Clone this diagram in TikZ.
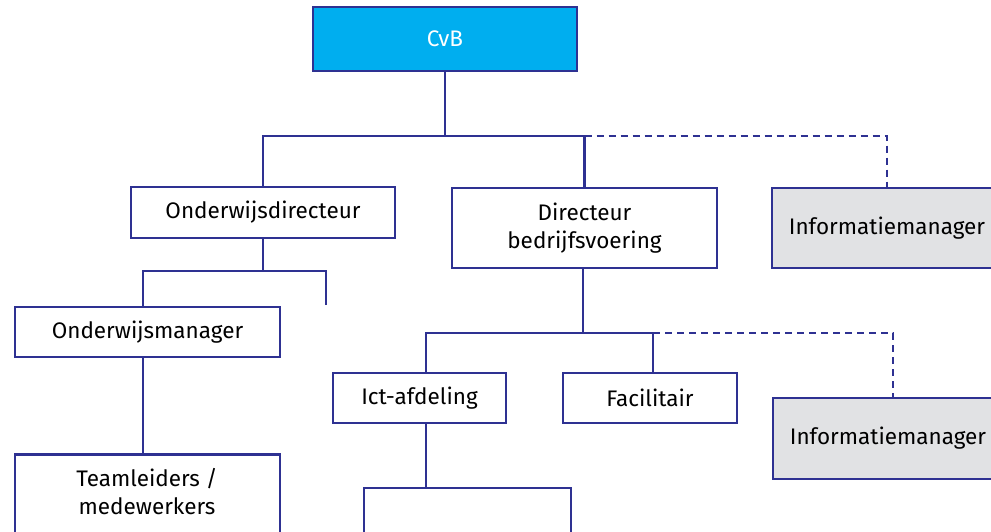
\documentclass[tikz,border=0pt]{standalone}
\usepackage{fontspec}
\setmainfont{Fira Sans}
\definecolor{orgline}{RGB}{46,49,146}
\definecolor{orgcyan}{RGB}{0,174,239}
\definecolor{orggrey}{RGB}{225,226,228}
\begin{document}
\begin{tikzpicture}[x=1pt,y=-1pt,
  link/.style={draw=orgline,line width=2.8pt},
  dotlink/.style={link,dash pattern=on 7pt off 5pt},
  unit/.style={draw=orgline,line width=2.8pt,fill=white,inner sep=0pt,
    align=center,font=\fontsize{22.5}{28}\selectfont},
  board/.style={unit,fill=orgcyan,text=white},
  staff/.style={unit,fill=orggrey}]
\useasboundingbox (0,0) rectangle (991,531);
\clip (0,0) rectangle (991,531);

% boxes
\node[board, minimum width=264pt, minimum height=64pt] (cvb) at (445,39) {CvB};
\node[unit, minimum width=264pt, minimum height=51pt] (odir) at (263,212.5) {Onderwijsdirecteur};
\node[unit, minimum width=265pt, minimum height=80pt] (dbv) at (584.5,228) {Directeur\\bedrijfsvoering};
\node[staff, minimum width=230pt, minimum height=80pt] (im1) at (887,228) {Informatiemanager};
\node[unit, minimum width=265pt, minimum height=50pt] (om) at (147.5,332) {Onderwijsmanager};
\node[unit, minimum width=173pt, minimum height=50pt] (ict) at (419.5,398) {Ict-afdeling};
\node[unit, minimum width=174pt, minimum height=50pt] (fac) at (650,398) {Facilitair};
\node[staff, minimum width=230pt, minimum height=81pt] (im2) at (888,438.5) {Informatiemanager};
\node[unit, minimum width=265pt, minimum height=92pt, anchor=north] (team) at (147.5,453) {};
\node[align=center, font=\fontsize{22.5}{28}\selectfont] (teamtext) at (147,492) {Teamleiders /\\medewerkers};

% junctions
\coordinate (busA) at (446,136);
\coordinate (busB) at (263,271);
\coordinate (stubB) at (326,305);
\coordinate (busC) at (583,333);
\coordinate (busD) at (426,488);
\coordinate (legL) at (364,540);
\coordinate (legR) at (571,540);

% connectors
\draw[link] (cvb.south) -- (cvb.south |- busA);
\draw[link] (odir.north) |- (busA) -| (dbv.north);
\draw[dotlink] (dbv.north |- busA) -| (im1.north);

\draw[link] (odir.south) -- (busB);
\draw[link] (stubB) |- (busB) -| ([xshift=-4.5pt]om.north);
\draw[link] ([xshift=-4.5pt]om.south) -- ([xshift=-4.5pt]team.north);

\draw[link] ([xshift=-1.5pt]dbv.south) -- (busC);
\draw[link] ([xshift=6.5pt]ict.north) |- (busC) -| ([xshift=3pt]fac.north);
\draw[dotlink] ([xshift=3pt]fac.north |- busC) -| ([xshift=5pt]im2.north);

\draw[link] ([xshift=6.5pt]ict.south) -- (busD);
\draw[link] (legL) |- (busD) -| (legR);
\end{tikzpicture}
\end{document}
